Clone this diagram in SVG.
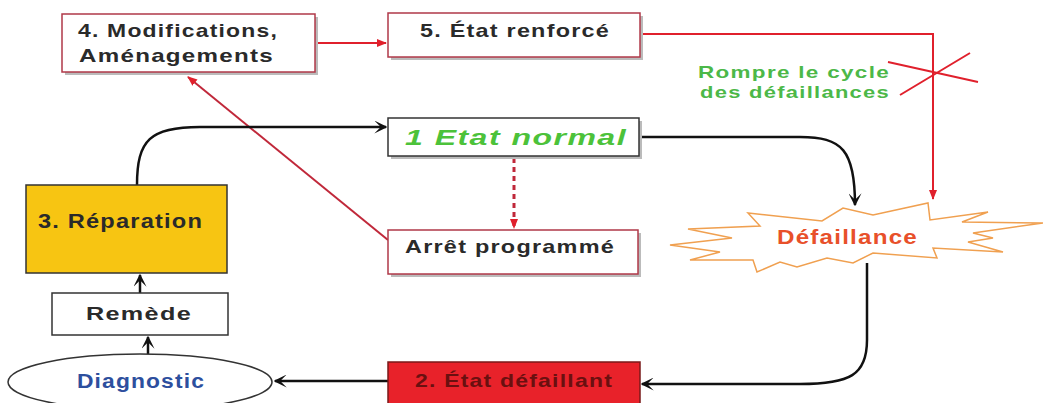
<svg xmlns="http://www.w3.org/2000/svg" width="1043" height="403" viewBox="0 0 1043 403">
<defs>
<marker id="abk" viewBox="0 0 10 10" refX="9" refY="5" markerWidth="13" markerHeight="13" orient="auto" markerUnits="userSpaceOnUse"><path d="M0,0 L10,5 L0,10 L5,5 Z" fill="#111"/></marker>
<marker id="ar" viewBox="0 0 10 10" refX="9" refY="5" markerWidth="10" markerHeight="10" orient="auto" markerUnits="userSpaceOnUse"><path d="M0,1 L10,5 L0,9 Z" fill="#e0202c"/></marker>
</defs>
<style>
text{font-family:"Liberation Sans",Arial,sans-serif;font-weight:bold;letter-spacing:1px}
.t{fill:#2a2a2a}
.rb{fill:#fff;stroke:#b03848;stroke-width:1.5}
.sh{fill:#bbb}
.bk{fill:none;stroke:#111;stroke-width:2.5}
.rd{fill:none;stroke:#e0202c;stroke-width:2}
.g{fill:#4cb848;font-size:17px}
</style>
<rect width="1043" height="403" fill="#fff"/>
<g id="connectors">
<path class="rd" d="M315,43 L386,43" marker-end="url(#ar)"/>
<path class="rd" d="M640,34 L933,34 L933,199" marker-end="url(#ar)"/>
<path class="rd" d="M888,62 L978,82 M970,53 L900,95"/>
<path fill="none" stroke="#c0283a" stroke-width="2" d="M388,240 L188,77" marker-end="url(#ar)"/>
<path fill="none" stroke="#c0283a" stroke-width="3" stroke-dasharray="5,4" d="M514,158 L514,228" marker-end="url(#ar)"/>
<path class="bk" d="M137,185 C137,140 150,127 200,127 L386,127" marker-end="url(#abk)"/>
<path class="bk" d="M640,137 L800,137 C842,137 855,150 855,205" marker-end="url(#abk)"/>
<path class="bk" d="M867,263 L867,340 C867,375 850,384 800,384 L642,384" marker-end="url(#abk)"/>
<path class="bk" d="M388,381 L275,381" marker-end="url(#abk)"/>
<path class="bk" d="M140,293 L140,275" marker-end="url(#abk)"/>
<path class="bk" d="M148,354 L148,337" marker-end="url(#abk)"/>
</g>
<g id="n4">
<rect class="sh" x="65" y="17" width="253" height="58"/>
<rect class="rb" x="62" y="14" width="253" height="58"/>
<text class="t" x="78" y="37" font-size="19" textLength="200" lengthAdjust="spacingAndGlyphs">4. Modifications,</text>
<text class="t" x="79" y="62" font-size="19" textLength="195" lengthAdjust="spacingAndGlyphs">Aménagements</text>
</g>
<g id="n5">
<rect class="sh" x="391" y="16" width="252" height="44"/>
<rect class="rb" x="388" y="13" width="252" height="44"/>
<text class="t" x="420" y="37" font-size="19" textLength="190" lengthAdjust="spacingAndGlyphs">5. État renforcé</text>
</g>
<g id="note">
<text class="g" x="698" y="78" textLength="192" lengthAdjust="spacingAndGlyphs">Rompre le cycle</text>
<text class="g" x="700" y="98" textLength="190" lengthAdjust="spacingAndGlyphs">des défaillances</text>
</g>
<g id="n1">
<rect class="sh" x="391" y="121" width="251" height="38"/>
<rect x="388" y="118" width="251" height="38" fill="#fff" stroke="#333" stroke-width="1.5"/>
<text x="405" y="145" font-size="22" font-style="italic" fill="#4cc23a" textLength="222" lengthAdjust="spacingAndGlyphs">1 Etat normal</text>
</g>
<g id="narret">
<rect class="sh" x="391" y="233" width="250" height="44"/>
<rect class="rb" x="388" y="230" width="250" height="44"/>
<text class="t" x="405" y="253" font-size="19" textLength="210" lengthAdjust="spacingAndGlyphs">Arrêt programmé</text>
</g>
<g id="n3">
<rect x="26" y="185" width="201" height="88" fill="#f7c512" stroke="#333" stroke-width="1.5"/>
<text class="t" x="38" y="228" font-size="20" textLength="165" lengthAdjust="spacingAndGlyphs">3. Réparation</text>
</g>
<g id="nremede">
<rect x="52" y="293" width="176" height="42" fill="#fff" stroke="#333" stroke-width="1.5"/>
<text class="t" x="86" y="320" font-size="19" textLength="106" lengthAdjust="spacingAndGlyphs">Remède</text>
</g>
<g id="ndiag">
<ellipse cx="140" cy="382" rx="132" ry="28" fill="#fff" stroke="#333" stroke-width="1.5"/>
<text x="77" y="388" font-size="20" fill="#2d4f9e" textLength="128" lengthAdjust="spacingAndGlyphs">Diagnostic</text>
</g>
<g id="n2">
<rect x="388" y="362" width="252" height="44" fill="#e8222a" stroke="#7a1a1a" stroke-width="1.5"/>
<text x="415" y="387" font-size="19" fill="#6a1010" textLength="198" lengthAdjust="spacingAndGlyphs">2. État défaillant</text>
</g>
<g id="ndef">
<path d="M670,245 L732,238 L688,229 L760,226 L748,213 L822,221 L843,208 L873,215 L928,203 L930,220 L988,212 L962,222 L1043,223 L973,233 L993,238 L968,242 L1003,252 L933,248 L937,258 L873,253 L853,263 L827,258 L797,267 L780,262 L757,272 L753,260 L690,260 L720,252 Z" fill="#fff" stroke="#f0a050" stroke-width="1.5"/>
<text x="777" y="244" font-size="20" fill="#e8502a" textLength="141" lengthAdjust="spacingAndGlyphs">Défaillance</text>
</g>
</svg>
